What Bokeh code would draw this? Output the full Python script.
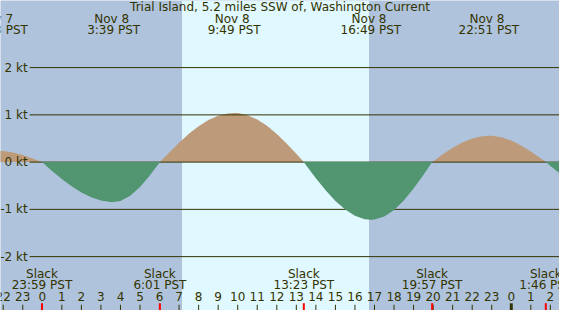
import numpy as np
from bokeh.plotting import figure
from bokeh.models import Range1d, BoxAnnotation
from bokeh.embed import file_html
from bokeh.resources import INLINE
from bokeh.core.properties import value

title = "Trial Island, 5.2 miles SSW of, Washington Current"

# time in hours relative to Nov 8 00:00 PST, current speed in knots
hours = [-2.5, -2.29, -2.0, -1.5, -1.0, -0.5, -0.017, 0.5, 1.0, 1.5, 2.0, 2.5, 3.0, 3.5, 3.65,
         4.0, 4.5, 5.0, 5.5, 6.0, 6.017, 6.5, 7.0, 7.5, 8.0, 8.5, 9.0, 9.5, 9.817,
         10.0, 10.5, 11.0, 11.5, 12.0, 12.5, 13.0, 13.383, 13.5, 14.0, 14.5, 15.0, 15.5, 16.0, 16.5, 16.817,
         17.0, 17.5, 18.0, 18.5, 19.0, 19.5, 19.95, 20.0, 20.5, 21.0, 21.5, 22.0, 22.5, 22.85,
         23.0, 23.5, 24.0, 24.5, 25.0, 25.5, 25.767, 26.0, 26.5]
knots = [0.238, 0.24, 0.235, 0.205, 0.151, 0.078, 0.0, -0.186, -0.357, -0.511, -0.643, -0.744, -0.812, -0.843, -0.845,
         -0.822, -0.714, -0.528, -0.284, -0.010, 0.0, 0.206, 0.411, 0.598, 0.760, 0.889, 0.981, 1.031, 1.04,
         1.037, 0.993, 0.902, 0.767, 0.595, 0.394, 0.175, 0.0, -0.065, -0.340, -0.597, -0.822, -1.005, -1.136, -1.207, -1.22,
         -1.215, -1.149, -1.012, -0.811, -0.559, -0.273, 0.0, 0.015, 0.164, 0.302, 0.417, 0.502, 0.550, 0.56,
         0.558, 0.526, 0.456, 0.353, 0.225, 0.080, 0.0, -0.08, -0.245]

ext_hours = [-2.29, 3.65, 9.817, 16.817, 22.85]
ext_dates = ["Nov  7", "Nov  8", "Nov  8", "Nov  8", "Nov  8"]
ext_times = ["21:43 PST", "3:39 PST", "9:49 PST", "16:49 PST", "22:51 PST"]

slack_hours = [-0.017, 6.017, 13.383, 19.95, 25.767]
slack_times = ["23:59 PST", "6:01 PST", "13:23 PST", "19:57 PST", "1:46 PST"]

tick_hours = list(range(-2, 27))
tick_labels = [str(h % 24) for h in tick_hours]
midnight_hours = [24]

kt_levels = [2, 1, 0, -1, -2]
kt_labels = ["2 kt", "1 kt", "0 kt", "-1 kt", "-2 kt"]

sunrise, sunset = 7.15, 16.72

NIGHT = "#afc3dc"
DAY = "#e0f8ff"
FLOOD = "#bd9b7a"
EBB = "#519571"
INK = "#333300"
FONT = value("DejaVu Sans")
FS = "12px"

X0, X1 = -2.139, 26.468
Y0, Y1 = -3.14, 3.42

p = figure(width=559, height=310, output_backend="svg", toolbar_location=None,
           x_range=Range1d(X0, X1), y_range=Range1d(Y0, Y1),
           x_axis_location=None, y_axis_location=None, min_border=0)
p.grid.visible = False
p.outline_line_color = None
p.background_fill_color = NIGHT
p.border_fill_color = NIGHT

p.add_layout(BoxAnnotation(left=sunrise, right=sunset, fill_color=DAY, fill_alpha=1.0,
                           line_color=None, level="underlay"))

h = np.array(hours)
k = np.array(knots)
p.varea(x=h, y1=np.zeros_like(k), y2=np.maximum(k, 0), fill_color=FLOOD)

p.segment(x0=[-0.647] * len(kt_levels), x1=[X1] * len(kt_levels), y0=kt_levels, y1=kt_levels,
          line_color=INK, line_width=1)
p.text(x=[-0.746] * len(kt_levels), y=kt_levels, text=kt_labels, text_align="right",
       text_baseline="middle", text_font=FONT, text_font_size=FS, text_color=INK)

p.varea(x=h, y1=np.zeros_like(k), y2=np.minimum(k, 0), fill_color=EBB)

# title and extremes
p.text(x=[(X0 + X1) / 2], y=[3.273], text=[title], text_align="center", text_baseline="middle",
       text_font=FONT, text_font_size=FS, text_color=INK)
p.text(x=ext_hours, y=[3.038] * len(ext_hours), text=ext_dates, text_align="center",
       text_baseline="middle", text_font=FONT, text_font_size=FS, text_color=INK)
p.text(x=ext_hours, y=[2.787] * len(ext_hours), text=ext_times, text_align="center",
       text_baseline="middle", text_font=FONT, text_font_size=FS, text_color=INK)

# slack labels
p.text(x=slack_hours, y=[-2.36] * len(slack_hours), text=["Slack"] * len(slack_hours),
       text_align="center", text_baseline="middle", text_font=FONT, text_font_size=FS, text_color=INK)
p.text(x=slack_hours, y=[-2.60] * len(slack_hours), text=slack_times, text_align="center",
       text_baseline="middle", text_font=FONT, text_font_size=FS, text_color=INK)

# hour labels and ticks
p.text(x=tick_hours, y=[-2.851] * len(tick_hours), text=tick_labels, text_align="center",
       text_baseline="middle", text_font=FONT, text_font_size=FS, text_color=INK)
p.segment(x0=tick_hours, x1=tick_hours, y0=[Y0] * len(tick_hours), y1=[-3.018] * len(tick_hours),
          line_color=INK, line_width=1)
p.segment(x0=midnight_hours, x1=midnight_hours, y0=[Y0] * len(midnight_hours),
          y1=[-2.988] * len(midnight_hours), line_color=INK, line_width=3)
p.segment(x0=slack_hours, x1=slack_hours, y0=[Y0] * len(slack_hours), y1=[-2.985] * len(slack_hours),
          line_color="#ff0000", line_width=2)

open("out.html", "w").write(file_html(p, INLINE))
